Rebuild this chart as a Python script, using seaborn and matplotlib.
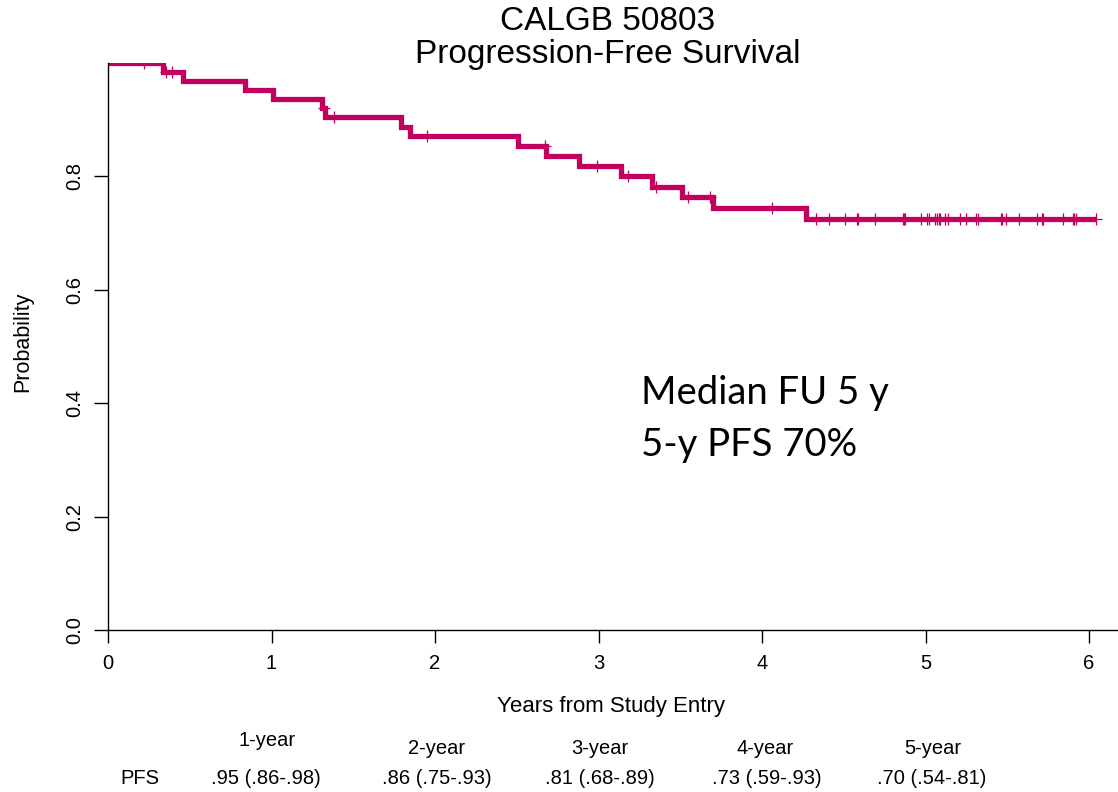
import numpy as np
import pandas as pd
import matplotlib
matplotlib.use("Agg")
import matplotlib.pyplot as plt
from matplotlib import font_manager
import seaborn as sns

# Kaplan-Meier step data (years, survival after each event)
event_times = [0.335, 0.46, 0.84, 1.01, 1.31, 1.33, 1.79, 1.85, 2.51, 2.68,
               2.88, 3.14, 3.33, 3.51, 3.70, 4.27]
event_surv = [0.984, 0.969, 0.953, 0.937, 0.921, 0.905, 0.888, 0.871, 0.853,
              0.836, 0.818, 0.800, 0.782, 0.764, 0.745, 0.724]
censor_times = [0.22, 0.355, 0.39, 1.32, 1.38, 1.95, 2.67, 2.99, 3.18, 3.35,
                3.55, 3.68, 4.06, 4.33, 4.41, 4.51, 4.58, 4.59, 4.69, 4.86,
                4.87, 4.875, 4.97, 5.01, 5.02, 5.06, 5.07, 5.08, 5.09, 5.12,
                5.14, 5.21, 5.25, 5.31, 5.32, 5.46, 5.47, 5.49, 5.57, 5.68,
                5.71, 5.72, 5.84, 5.90, 5.91, 5.92, 6.04]

x_ticks = [0, 1, 2, 3, 4, 5, 6]
y_ticks = [0.0, 0.2, 0.4, 0.6, 0.8]
y_tick_labels = ["0.0", "0.2", "0.4", "0.6", "0.8"]

table_headers = ["1-year", "2-year", "3-year", "4-year", "5-year"]
table_values = [".95 (.86-.98)", ".86 (.75-.93)", ".81 (.68-.89)",
                ".73 (.59-.93)", ".70 (.54-.81)"]

title_lines = ["CALGB 50803", "Progression-Free Survival"]
note_lines = ["Median FU 5 y", "5-y PFS 70%"]

curve_color = "#C2005E"

sns.set_theme(style="white")
plt.rcParams["font.family"] = ["Liberation Sans", "DejaVu Sans"]
for key in ["text.color", "axes.labelcolor", "xtick.color", "ytick.color",
            "axes.edgecolor"]:
    plt.rcParams[key] = "black"

available = {f.name for f in font_manager.fontManager.ttflist}
narrow = "Liberation Sans Narrow" if "Liberation Sans Narrow" in available else None

W, H = 1118, 792
fig = plt.figure(figsize=(W / 100, H / 100), dpi=100)
x0_px, y0_px, y1_px = 108, 630, 63
ax = fig.add_axes([x0_px / W, 1 - y0_px / H, 1 - x0_px / W, (y0_px - y1_px) / H])

# step curve
last_t = censor_times[-1]
curve = pd.DataFrame({
    "time": [0.0] + event_times + [last_t],
    "surv": [1.0] + event_surv + [event_surv[-1]],
})
sns.lineplot(data=curve, x="time", y="surv", ax=ax, estimator=None, sort=False,
             drawstyle="steps-post", color=curve_color, linewidth=3.8,
             solid_joinstyle="miter", solid_capstyle="butt")

# censoring marks placed on the curve
ev_t = np.array(event_times)
ev_s = np.array(event_surv)
def surv_at(t):
    idx = np.searchsorted(ev_t, t, side="right") - 1
    return 1.0 if idx < 0 else ev_s[idx]
cens = pd.DataFrame({"time": censor_times,
                     "surv": [surv_at(t) for t in censor_times]})
sns.scatterplot(data=cens, x="time", y="surv", ax=ax, marker="+", s=75,
                color=curve_color, linewidth=0.9, zorder=3)

ax.set_xlim(0, (W - x0_px) / 163.5)
ax.set_ylim(0, 1.0)
for side in ["top", "right"]:
    ax.spines[side].set_visible(False)
for side in ["left", "bottom"]:
    ax.spines[side].set_color("black")
    ax.spines[side].set_linewidth(1.0)

ax.set_xticks(x_ticks)
ax.set_xticklabels([str(v) for v in x_ticks], fontsize=14.5)
ax.set_yticks(y_ticks)
ax.set_yticklabels(y_tick_labels, fontsize=14.5, rotation=90, va="center")
ax.tick_params(axis="x", direction="out", length=9, width=1.0, color="black",
               pad=8, bottom=True)
ax.tick_params(axis="y", direction="out", length=10, width=1.0, color="black",
               pad=7, left=True)
ax.set_xlabel("Years from Study Entry", fontsize=16)
ax.set_ylabel("Probability", fontsize=15.5)
ax.xaxis.set_label_coords((611 - x0_px) / (W - x0_px), -(696 - y0_px) / (y0_px - y1_px))
ax.yaxis.set_label_coords(-(108 - 33) / (W - x0_px), (y0_px - 342) / (y0_px - y1_px))
ax.grid(False)

# two-line title
fig.text(608 / W, 1 - 21 / H, title_lines[0], ha="center", va="center", fontsize=24)
fig.text(608 / W, 1 - 54 / H, title_lines[1], ha="center", va="center", fontsize=24)

# annotation
note_kw = dict(ha="left", va="center", fontsize=27.5, family=["Lato", "DejaVu Sans"])
fig.text(641 / W, 1 - 393 / H, note_lines[0], **note_kw)
fig.text(641 / W, 1 - 445 / H, note_lines[1], **note_kw)

# landmark table under the axis
tab_family = [narrow, "DejaVu Sans"] if narrow else ["Liberation Sans", "DejaVu Sans"]
tab_size = 17 if narrow else 14.5
header_x = [267, 437, 600, 765, 933]
header_y = [741, 748, 748, 748, 748]
for hx, hy, txt in zip(header_x, header_y, table_headers):
    fig.text(hx / W, 1 - hy / H, txt, ha="center", va="center",
             fontsize=tab_size, family=tab_family)
fig.text(140 / W, 1 - 779 / H, "PFS", ha="center", va="center",
         fontsize=tab_size, family=tab_family)
value_x = [266, 437, 600, 767, 932]
for vx, txt in zip(value_x, table_values):
    fig.text(vx / W, 1 - 779 / H, txt, ha="center", va="center",
             fontsize=tab_size, family=tab_family)

fig.savefig("out.png", dpi=100)
